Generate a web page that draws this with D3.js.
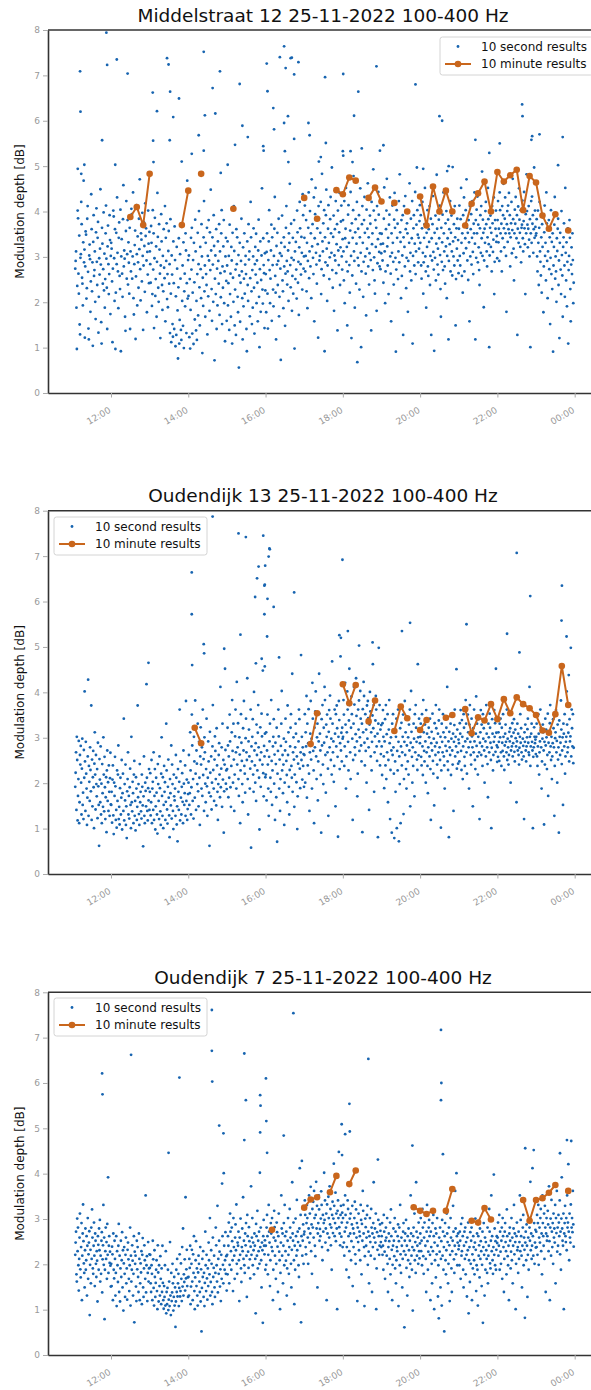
<!DOCTYPE html>
<html>
<head>
<meta charset="utf-8">
<script src="https://cdn.jsdelivr.net/npm/d3@7"></script>
<style>
  body { margin: 0; background: #fff; }
  svg { display: block; font-family: "DejaVu Sans", sans-serif; }
</style>
</head>
<body>
<svg id="chart" width="591" height="1390"></svg>
<script>

// 10 second results, one string per hour (values in 0.01 dB)
var hours = [11, 12, 13, 14, 15, 16, 17, 18, 19, 20, 21, 22, 23];

var mid10s = [
  "274 291 312 188 97 236 402 385 263 219 347 151 129 298 306 421 372 254 241 193 332 468 288 316 122 279 356 349 208 231 384 412 267 142 118 303 327 295 179 246 438 361 224 288 104 333 392 258 271 312 201 163 354 407 289 238 342 377 133 212 297 261 318 449 283 156 109 364 329 241 273 398 226 307 188 251 352 413 296 232 141 323 369 284 218 262 392 337 174 302",
  "331 318 246 112 274 402 389 297 203 361 97 221 353 284 431 309 268 187 342 376 258 229 404 92 301 339 263 212 383 458 279 314 296 168 137 357 423 252 306 381 239 332 287 219 364 141 312 268 406 394 252 301 442 209 173 284 326 358 119 257 414 306 193 345 288 232 384 317 471 273 204 352 338 246 397 302 139 281 376 324 223 418 346 363 292 178 311 261 402 329 242 355",
  "312 284 243 368 331 192 218 403 272 352 143 297 386 214 251 323 168 289 441 344 232 201 372 316 263 121 281 394 334 238 183 302 224 361 276 253 412 158 342 291 374 207 262 189 313 357 241 284 132 383 219 112 303 261 152 124 334 242 141 367 293 103 213 128 322 274 182 76 233 341 109 161 306 252 139 117 373 203 281 148 332 99 224 263 191 352 314 132 242 468 208 293",
  "214 303 123 251 98 183 342 272 364 131 221 293 108 331 244 162 382 312 138 203 117 262 353 171 284 401 233 149 322 273 209 372 301 88 254 192 343 423 224 281 168 331 262 238 364 129 302 213 381 292 181 354 271 448 314 229 159 343 283 201 392 324 72 252 303 218 361 141 274 193 334 291 241 372 172 312 264 211 352 403 152 279 232 323 381 198 268 114 301 342 247 159",
  "281 334 193 242 302 139 371 218 263 168 322 292 109 353 254 201 412 313 149 228 272 128 361 284 343 212 178 304 56 259 331 157 243 291 384 268 209 118 321 191 252 352 219 283 302 262 141 92 334 238 203 372 294 312 169 253 421 343 224 152 271 188 301 363 232 131 284 322 261 351 198 292 243 158 314 382 212 101 273 334 179 249 303 451 228 197 341 282 264 143 308 226",
  "262 178 311 352 219 142 293 334 403 271 198 252 314 371 159 343 282 228 191 302 362 432 258 221 118 324 283 353 238 291 384 169 212 308 274 73 331 302 391 248 224 187 343 279 322 148 263 364 412 291 239 268 314 203 352 331 461 282 233 373 298 181 258 342 219 293 381 98 312 251 333 272 208 402 354 243 289 172 321 421 363 284 261 344 309 228 438 392 274 301",
  "342 413 268 302 381 224 331 187 291 364 442 253 312 401 279 352 209 471 323 372 298 262 431 158 341 394 452 309 283 241 363 328 122 412 384 292 302 353 421 218 273 483 334 312 374 259 403 92 343 288 392 448 318 203 281 362 414 331 251 299 383 432 352 309 497 271 232 344 391 181 303 361 292 423 264 328 372 138 402 314 282 354 441 238 321 378 413 301 272 339",
  "381 312 248 423 198 341 362 452 289 322 149 268 393 414 331 282 221 358 443 302 121 374 259 342 403 478 312 291 188 354 383 241 329 421 68 298 362 281 392 228 343 451 309 101 268 372 412 331 212 289 381 432 353 301 263 171 404 318 362 462 279 343 239 308 391 373 293 138 421 328 352 271 493 402 299 248 219 381 322 364 181 412 286 339 443 393 311 279 352 273 328 308",
  "351 421 292 329 243 384 453 312 198 268 361 402 472 323 281 342 218 371 393 431 301 263 158 352 309 413 331 289 239 382 441 364 298 91 272 403 342 373 251 312 423 288 482 354 333 209 381 258 303 392 128 343 412 322 279 434 361 231 298 374 352 179 291 401 331 462 268 309 384 248 341 423 109 302 363 392 281 329 443 262 312 371 497 403 349 288 342 318 379 414",
  "331 392 281 252 363 421 309 219 288 342 372 452 301 268 188 353 322 403 279 258 361 333 412 238 302 384 128 341 292 372 434 311 272 93 353 298 391 248 329 481 362 283 318 261 382 341 413 304 229 168 364 289 332 393 271 442 352 312 279 241 374 323 401 209 302 341 382 118 291 361 328 423 268 353 391 312 259 498 334 301 372 281 412 343 149 251 363 318 384 292 337 264",
  "362 413 302 281 383 452 331 258 352 221 392 308 431 268 372 341 403 319 471 364 292 353 249 381 332 158 412 301 361 394 283 342 423 311 262 373 352 442 329 118 381 298 404 352 433 288 371 321 271 238 363 392 309 412 341 488 302 382 353 189 292 362 331 401 421 372 312 279 343 452 383 328 101 303 364 391 322 353 268 412 374 311 338 431 218 289 381 362 402 333 346 297",
  "381 423 332 362 291 442 403 352 312 373 268 412 341 392 461 363 321 384 431 352 302 179 372 401 333 413 361 441 352 392 279 343 374 421 308 359 472 383 318 248 352 404 373 432 299 341 392 128 362 411 331 451 382 353 322 403 288 364 371 424 341 312 379 443 363 328 218 394 352 482 401 371 321 362 412 338 301 383 101 352 423 331 433 373 392 309 361 497 342 402 366 347",
  "352 383 301 268 402 331 238 364 421 312 289 259 343 221 372 322 393 178 279 354 413 302 331 248 442 374 291 209 312 361 381 273 343 152 298 403 262 333 229 352 91 281 322 371 432 252 301 268 201 341 313 362 384 238 292 121 331 353 272 218 401 304 259 168 322 343 374 281 212 452 309 248 332 191 289 363 109 271 302 381 342 229 158 283 321 262 352 293 198 243"
];

// single results above the main cloud: [hour of day, dB]
var midHigh = [
  [11.20, 7.09], [11.21, 6.20], [11.14, 4.94], [11.23, 4.83], [11.31, 5.03], [11.77, 5.57], [11.88, 7.94], [11.90, 7.23],
  [12.15, 7.35], [12.43, 7.04], [12.11, 5.03], [13.08, 6.62], [13.19, 6.21], [13.09, 5.56], [13.10, 5.09], [13.45, 7.38],
  [13.49, 7.24], [13.53, 6.64], [13.76, 6.49], [13.61, 6.08], [13.52, 5.57], [13.83, 5.10], [14.40, 7.52], [14.82, 7.09],
  [14.63, 6.72], [14.70, 6.16], [14.43, 6.12], [14.27, 5.68], [14.09, 5.27], [14.40, 5.34], [14.84, 4.85], [15.02, 5.03],
  [15.33, 6.81], [15.40, 5.89], [15.54, 5.64], [15.21, 5.47], [15.94, 5.44], [15.95, 5.34], [16.03, 7.26], [16.05, 6.65],
  [16.20, 6.28], [16.22, 5.81], [16.48, 7.64], [16.37, 7.40], [16.52, 7.16], [16.65, 7.38], [16.74, 7.02], [16.85, 7.29],
  [16.58, 6.10], [16.48, 5.95], [16.50, 5.33], [16.59, 5.09], [16.74, 5.60], [16.68, 7.39], [17.54, 6.96], [18.01, 7.03],
  [18.87, 7.20], [18.40, 6.64], [18.29, 6.11], [19.88, 6.80], [20.50, 6.10], [20.57, 6.00], [17.11, 5.95], [17.14, 5.68],
  [17.56, 5.51], [18.49, 5.39], [19.05, 5.46], [18.96, 5.34], [21.43, 5.58], [22.06, 5.50], [22.64, 6.36], [22.65, 6.10],
  [22.90, 5.66], [22.88, 5.58], [23.09, 5.70], [23.69, 5.64], [21.79, 5.29], [23.57, 5.02], [18.00, 5.33], [18.01, 5.23],
  [18.20, 5.33], [17.43, 5.20], [17.38, 5.10], [18.25, 5.09], [20.74, 5.00], [20.70, 4.89], [20.08, 4.94]
];

var oud13_10s = [
  "192 223 268 141 302 251 118 172 209 293 112 158 262 241 282 201 131 232 298 152 179 121 273 212 402 248 139 291 221 188 108 168 259 428 128 238 203 161 279 229 182 371 119 252 149 213 271 191 101 243 312 219 142 262 198 171 231 123 289 193 152 62 253 208 158 281 131 199 112 242 178 148 301 219 138 258 191 121 169 213 92 228 272 161 202 139 239 181 128 211 267 153",
  "152 181 113 208 239 129 88 201 172 258 193 119 141 102 228 161 219 283 121 148 109 189 212 131 168 251 98 178 221 139 342 118 198 162 241 108 149 79 182 209 268 131 172 122 191 232 152 101 302 158 138 203 178 112 219 249 128 161 96 213 188 119 148 371 169 198 132 108 242 158 181 138 122 219 192 151 61 171 259 128 112 201 183 149 418 212 139 118 189 162 231 141",
  "181 222 129 158 251 112 188 203 141 268 119 172 231 98 149 212 179 131 89 242 198 161 121 259 189 138 108 221 301 172 128 213 101 152 238 181 202 119 159 331 228 142 111 192 252 168 129 81 209 178 151 283 122 241 198 139 99 219 171 162 188 128 262 212 109 149 72 231 181 141 203 362 118 248 168 131 192 222 159 112 272 199 152 178 239 128 381 161 208 119 143 176",
  "201 262 152 178 312 228 131 191 351 283 161 209 122 302 248 168 382 221 141 272 243 198 331 182 149 291 212 108 259 323 241 188 279 172 362 218 253 139 301 268 199 158 231 342 193 128 212 292 248 179 62 313 223 171 259 142 201 281 372 229 188 161 252 303 271 209 151 321 239 181 119 198 262 288 219 169 412 191 232 279 148 331 208 251 91 182 241 452 273 199 228 187",
  "231 322 283 169 259 212 351 292 191 148 238 312 383 271 201 331 252 139 219 303 362 268 188 423 241 279 332 209 172 301 263 112 228 352 289 249 198 158 321 272 381 238 221 179 299 342 268 251 431 209 131 292 318 259 188 232 362 58 281 248 302 341 219 181 401 272 239 201 288 161 329 262 228 311 372 279 212 98 251 323 192 268 353 303 241 448 222 171 282 259 309 213",
  "219 312 162 272 351 241 188 128 258 292 331 212 181 383 249 152 228 281 302 341 199 263 119 289 242 169 322 71 221 271 362 303 188 252 139 209 282 331 403 228 262 178 241 298 108 201 272 342 291 249 218 158 371 262 312 192 131 229 281 322 352 238 212 441 181 268 301 252 148 219 279 331 309 202 259 99 171 243 292 362 341 232 189 268 482 251 302 208 279 238 264 192",
  "262 352 201 312 281 392 168 331 239 288 363 221 139 268 309 381 252 298 188 421 342 271 228 112 322 279 358 402 259 209 301 331 162 248 292 441 353 309 272 218 91 341 283 372 241 198 322 289 412 383 262 179 329 302 351 268 232 128 313 361 279 393 342 251 298 219 468 331 268 292 203 238 362 309 149 352 281 371 321 258 82 302 381 339 231 288 479 272 311 248 322 298",
  "302 383 351 238 281 421 329 188 259 312 402 362 291 228 338 452 372 268 209 322 391 352 298 119 251 331 412 373 279 262 308 431 348 292 171 221 362 318 382 271 301 403 342 283 248 331 92 363 312 423 392 289 239 352 271 318 201 371 298 381 343 279 141 329 401 358 259 312 228 291 349 462 321 372 181 268 303 338 392 362 281 249 309 81 331 498 292 372 239 318 264 328",
  "281 218 332 361 302 259 189 292 341 239 372 209 308 268 352 158 251 318 383 288 121 229 301 272 91 331 262 352 279 221 79 312 248 181 302 342 101 271 228 362 291 72 259 198 321 112 281 333 239 268 302 351 132 209 291 381 262 312 231 188 283 342 248 301 219 329 272 362 149 289 403 313 258 201 279 238 331 298 171 352 268 372 322 291 252 229 462 301 261 342 316 288",
  "302 331 258 239 352 281 218 383 312 271 248 329 292 201 361 268 309 238 178 279 322 301 259 342 231 119 288 313 272 353 249 221 298 151 332 281 262 372 321 289 241 212 309 268 338 362 279 251 302 102 228 331 291 268 352 312 259 239 188 301 282 341 322 271 412 248 229 292 81 313 279 262 331 218 298 352 272 241 309 139 291 328 362 259 302 281 451 232 318 268 243 296",
  "288 248 332 309 361 271 229 339 302 209 281 352 322 258 238 292 383 331 268 221 298 351 312 279 188 329 372 291 262 241 342 303 279 149 321 268 362 292 251 231 309 391 282 331 259 219 302 341 268 121 289 312 361 262 329 281 238 352 298 321 272 201 341 292 259 372 309 279 242 169 331 301 268 353 322 289 251 101 278 341 309 228 262 291 361 302 332 269 452 311 283 247",
  "279 258 312 291 249 331 301 342 268 238 322 289 271 352 302 259 229 283 309 329 291 268 362 251 298 279 241 262 313 292 321 201 272 303 281 332 259 288 311 341 269 248 318 299 281 158 292 331 272 309 262 241 278 302 352 289 321 268 252 372 298 282 259 121 312 291 329 272 248 281 301 319 342 289 268 262 412 302 238 281 309 331 291 272 101 258 279 323 302 288 296 264",
  "302 331 259 238 281 352 309 219 268 292 362 322 279 188 248 298 329 312 272 109 291 241 342 283 318 301 231 262 353 172 289 309 268 332 372 281 251 302 209 259 288 341 321 279 128 238 299 312 361 268 293 201 329 252 279 91 338 302 262 289 382 318 242 272 301 152 331 309 281 352 221 259 291 302 402 329 268 279 311 438 248 341 292 303 498 259 362 321 281 352 244 278"
];

var oud13High = [
  [14.63, 7.87], [14.09, 6.64], [14.09, 5.72], [14.40, 5.06], [14.41, 4.86], [14.10, 4.60], [12.97, 4.65], [14.93, 4.96],
  [15.30, 7.50], [15.49, 7.42], [15.94, 7.45], [16.10, 7.17], [16.11, 7.15], [16.08, 6.99], [15.99, 6.79], [15.82, 6.77],
  [15.78, 6.51], [15.98, 6.37], [15.97, 6.35], [15.73, 6.10], [16.05, 6.06], [16.21, 5.88], [15.97, 5.72], [15.35, 5.27],
  [16.04, 5.23], [16.35, 4.77], [15.90, 4.74], [15.75, 4.64], [15.98, 4.57], [16.74, 6.20], [17.99, 6.92], [22.50, 7.07],
  [23.67, 6.35], [22.85, 6.12], [23.66, 5.58], [23.79, 5.23], [21.20, 5.50], [19.74, 5.53], [19.53, 5.35], [17.91, 5.26],
  [17.95, 5.20], [18.13, 5.35], [18.42, 5.03], [18.77, 5.10], [22.25, 5.29], [22.57, 4.88]
];

var oud7_10s = [
  "221 248 272 178 162 301 229 281 198 142 212 259 312 189 171 238 291 121 219 268 332 251 202 181 149 231 279 188 209 262 131 241 302 168 222 248 273 88 199 232 158 281 212 321 259 191 179 241 292 219 152 268 252 201 172 229 208 118 262 243 188 279 231 298 162 219 179 252 271 138 211 242 331 199 259 79 188 229 281 212 249 168 289 221 392 181 241 262 203 228 197 151",
  "201 152 239 222 121 268 188 169 252 212 131 181 262 108 229 198 161 241 289 139 219 118 191 252 172 209 271 149 231 98 202 238 179 128 221 259 158 191 122 232 248 211 168 141 198 281 109 219 162 188 242 208 131 179 262 72 228 201 219 151 119 252 189 238 172 139 268 212 121 158 202 182 229 112 221 258 149 128 191 242 209 168 352 138 198 218 119 181 249 162 191 222",
  "192 221 158 139 198 179 121 252 211 148 109 231 172 128 159 188 209 141 101 242 182 118 198 152 131 218 168 112 191 139 241 159 121 102 152 128 198 109 229 92 139 112 148 188 99 122 162 108 249 131 88 181 119 138 201 158 98 128 172 109 149 62 118 188 139 212 129 158 179 108 148 222 129 141 202 168 119 238 151 279 131 178 161 211 142 348 169 189 232 152 171 128",
  "172 131 212 192 241 112 151 201 232 162 121 222 181 262 141 101 171 209 251 152 191 131 109 182 219 201 162 139 238 118 189 52 148 212 172 229 128 181 108 159 272 198 141 221 169 122 191 152 248 209 178 302 131 161 231 201 139 112 259 172 192 219 149 128 181 281 242 198 162 329 138 212 179 252 228 151 189 119 221 168 378 262 199 158 401 241 188 209 271 179 218 142",
  "221 178 262 241 292 158 199 312 272 229 188 281 251 209 141 302 238 219 168 259 288 231 332 201 179 248 241 272 209 119 259 221 301 191 161 238 279 229 348 212 252 198 181 268 242 291 219 128 309 262 228 192 282 251 211 169 239 372 221 259 302 198 248 231 178 268 241 212 92 289 262 219 318 191 252 229 272 201 402 238 281 209 149 248 231 71 262 298 241 222 253 188",
  "241 199 281 309 262 178 221 331 272 248 152 209 291 268 238 302 229 121 188 259 318 282 219 252 168 201 292 271 239 139 262 312 228 209 101 181 248 352 279 219 268 158 241 291 198 331 262 229 208 272 131 191 252 302 221 179 238 322 281 259 201 149 232 381 268 252 292 209 112 241 188 301 262 219 342 231 272 249 198 172 279 412 241 309 72 262 428 219 252 288 201 266",
  "272 341 309 238 222 291 331 302 259 201 279 352 248 312 268 371 229 288 179 322 281 338 259 362 302 241 218 309 382 279 329 149 268 291 352 321 252 278 262 301 361 331 238 209 309 272 291 402 298 341 248 279 312 121 332 268 231 349 302 259 372 288 322 242 281 188 309 338 269 301 422 329 262 291 358 251 312 279 101 318 341 302 448 282 268 242 309 329 261 292 314 238",
  "302 331 248 219 272 352 309 281 188 238 292 341 322 262 171 229 301 268 312 209 251 288 329 152 279 238 268 302 338 222 201 321 259 291 119 281 249 312 231 272 262 209 331 298 178 289 252 362 318 268 238 108 218 301 282 241 259 309 329 199 272 228 158 262 302 249 219 322 281 139 268 238 291 381 259 212 279 248 312 101 191 271 232 431 298 262 221 241 288 274 249 238",
  "262 291 221 241 188 309 272 228 168 252 281 259 219 302 201 139 238 268 251 212 292 178 321 262 232 121 199 241 279 252 218 302 191 272 158 209 238 229 262 288 108 251 281 198 331 222 181 259 241 149 212 272 291 229 61 252 268 221 298 192 241 131 262 209 279 231 172 252 201 352 268 219 188 238 98 262 281 231 312 209 249 181 381 272 219 241 259 201 292 229 213 246",
  "268 302 229 252 198 322 281 218 179 259 292 309 241 212 139 272 331 251 188 228 281 298 262 221 121 272 238 201 158 291 229 309 262 101 248 209 279 171 268 222 302 241 129 198 81 259 228 281 149 212 251 109 298 219 272 188 238 52 262 291 209 178 231 312 268 249 158 201 281 242 119 221 302 259 191 139 229 252 329 272 211 181 241 362 279 222 401 262 198 248 268 233",
  "241 198 272 252 168 289 219 229 302 262 188 149 241 272 212 281 178 249 221 129 259 231 292 92 209 238 161 271 201 252 281 121 222 191 262 238 209 178 248 301 232 141 198 268 188 109 262 219 242 171 279 212 251 229 152 199 272 71 238 291 221 131 259 188 249 231 212 181 281 158 219 241 322 272 202 191 252 352 229 262 209 179 238 398 221 279 198 251 188 232 262 247",
  "259 292 219 241 309 188 272 228 201 252 281 168 302 262 238 139 212 272 291 249 229 178 321 262 218 198 241 121 268 281 252 191 228 302 209 259 158 241 279 331 222 268 249 101 201 262 292 231 238 181 272 212 249 352 229 298 262 219 149 241 281 309 198 259 232 82 248 272 209 288 241 128 221 259 188 302 281 252 382 231 268 212 241 412 262 219 452 291 201 248 276 237",
  "272 238 309 221 291 331 199 259 281 248 302 322 229 268 178 352 291 262 241 312 212 329 281 139 268 302 252 262 318 288 229 372 251 121 281 301 219 342 272 238 291 201 312 259 279 248 331 158 302 269 362 228 281 241 309 292 262 341 222 272 188 301 392 279 252 241 312 101 268 291 329 262 249 302 231 352 281 292 421 272 209 312 259 248 332 472 281 302 271 362 288 239"
];

var oud7High = [
  [11.77, 6.21], [11.78, 5.75], [12.52, 6.62], [13.77, 6.12], [14.61, 7.61], [14.61, 6.71], [14.62, 6.03], [15.45, 6.65],
  [15.49, 5.62], [15.86, 5.73], [15.87, 5.50], [16.01, 6.10], [16.02, 5.16], [15.86, 4.91], [15.45, 4.74], [14.80, 5.06],
  [14.91, 4.89], [16.47, 4.84], [16.72, 7.54], [13.49, 4.46], [16.04, 4.46], [20.54, 7.17], [18.66, 6.53], [20.55, 6.00],
  [20.54, 5.62], [18.17, 5.54], [17.97, 5.09], [18.06, 4.87], [18.18, 4.93], [19.80, 4.62], [17.98, 4.41], [22.72, 4.56],
  [23.80, 4.74], [23.62, 4.45], [20.59, 4.43]
];

// 10 minute results, null where there is no result (breaks the line)
var mid10min = [
  ["12:30", 3.88], ["12:40", 4.10], ["12:50", 3.70], ["13:00", 4.83], ["13:10", null],
  ["13:50", 3.70], ["14:00", 4.46], ["14:10", null], ["14:20", 4.83], ["14:30", null],
  ["15:10", 4.06], ["15:20", null], ["17:00", 4.30], ["17:10", null], ["17:20", 3.84], ["17:30", null],
  ["17:50", 4.47], ["18:00", 4.38], ["18:10", 4.75], ["18:20", 4.68], ["18:30", null],
  ["18:40", 4.30], ["18:50", 4.53], ["19:00", 4.22], ["19:10", null], ["19:20", 4.19], ["19:30", null],
  ["19:40", 4.00], ["19:50", null], ["20:00", 4.33], ["20:10", 3.69], ["20:20", 4.55], ["20:30", 4.00],
  ["20:40", 4.46], ["20:50", 4.00], ["21:00", null], ["21:10", 3.69], ["21:20", 4.17], ["21:30", 4.40],
  ["21:40", 4.66], ["21:50", 4.00], ["22:00", 4.87], ["22:10", 4.66], ["22:20", 4.80], ["22:30", 4.92],
  ["22:40", 4.03], ["22:50", 4.78], ["23:00", 4.64], ["23:10", 3.91], ["23:20", 3.62], ["23:30", 3.94],
  ["23:40", null], ["23:50", 3.58]
];

var oud13_10min = [
  ["14:10", 3.22], ["14:20", 2.88], ["14:30", null], ["17:10", 2.86], ["17:20", 3.54], ["17:30", null],
  ["18:00", 4.18], ["18:10", 3.76], ["18:20", 4.16], ["18:30", null], ["18:40", 3.36], ["18:50", 3.82], ["19:00", null],
  ["19:20", 3.15], ["19:30", 3.69], ["19:40", 3.43], ["19:50", null], ["20:00", 3.17], ["20:10", 3.39], ["20:20", null],
  ["20:40", 3.44], ["20:50", 3.50], ["21:00", null], ["21:10", 3.63], ["21:20", 3.10], ["21:30", 3.45], ["21:40", 3.38],
  ["21:50", 3.74], ["22:00", 3.41], ["22:10", 3.85], ["22:20", 3.54], ["22:30", 3.89], ["22:40", 3.74],
  ["22:50", 3.65], ["23:00", 3.50], ["23:10", 3.16], ["23:20", 3.11], ["23:30", 3.52], ["23:40", 4.58], ["23:50", 3.72]
];

var oud7_10min = [
  ["16:10", 2.76], ["16:20", null], ["17:00", 3.25], ["17:10", 3.43], ["17:20", 3.48], ["17:30", null],
  ["17:40", 3.59], ["17:50", 3.95], ["18:00", null], ["18:10", 3.77], ["18:20", 4.07], ["18:30", null],
  ["19:50", 3.26], ["20:00", 3.18], ["20:10", 3.11], ["20:20", 3.18], ["20:30", null],
  ["20:40", 3.18], ["20:50", 3.66], ["21:00", null], ["21:20", 2.96], ["21:30", 2.92], ["21:40", 3.24],
  ["21:50", 2.99], ["22:00", null], ["22:40", 3.42], ["22:50", 2.96], ["23:00", 3.42], ["23:10", 3.46],
  ["23:20", 3.58], ["23:30", 3.75], ["23:40", null], ["23:50", 3.62]
];

var titles = [
  "Middelstraat 12 25-11-2022 100-400 Hz",
  "Oudendijk 13 25-11-2022 100-400 Hz",
  "Oudendijk 7 25-11-2022 100-400 Hz"
];
var yTicks = [0, 1, 2, 3, 4, 5, 6, 7, 8];
var legendLabels = ["10 second results", "10 minute results"];


var blue = "#1764b0", orange = "#c9661c";
var day = new Date(2022, 10, 25);
function hDate(h) { return new Date(day.getTime() + h * 3600e3); }
function hm(s) { var p = s.split(":"); return +p[0] + p[1] / 60; }

// spread each hour's values evenly over that hour
function expand(strs) {
	var out = [];
	strs.forEach(function(s, k) {
		var h = hours[k];
		var vals = s.split(" ").map(Number);
		var t0 = h === 11 ? 11.07 : h, t1 = h === 23 ? 23.98 : h + 1;
		vals.forEach(function(v, i) {
			out.push([t0 + (i + 0.5) * (t1 - t0) / vals.length, v / 100]);
		});
	});
	return out;
}

var panels = [
	{ title: titles[0], top: 30, bottom: 393, dots: expand(mid10s).concat(midHigh), ten: mid10min, legend: [440, 37] },
	{ title: titles[1], top: 510.7, bottom: 874, dots: expand(oud13_10s).concat(oud13High), ten: oud13_10min, legend: [54, 517] },
	{ title: titles[2], top: 992.3, bottom: 1355, dots: expand(oud7_10s).concat(oud7High), ten: oud7_10min, legend: [54, 998] }
];

var left = 48, right = 591;
const x = d3.scaleTime().domain([hDate(10.3696), hDate(24.4224)]).range([left, right]);

const svg = d3.select("#chart");

panels.forEach(function(p) {
	const y = d3.scaleLinear().domain([0, 8]).range([p.bottom, p.top]);
	const g = svg.append("g");

	g.append("text")
		.attr("x", 323).attr("y", p.top - 8.3)
		.attr("text-anchor", "middle")
		.style("font-size", "18.5px").style("fill", "#111")
		.text(p.title);

	g.append("g").selectAll("circle")
		.data(p.dots)
		.enter().append("circle")
		.attr("cx", d => x(hDate(d[0])))
		.attr("cy", d => y(d[1]))
		.attr("r", 1.4)
		.style("fill", blue);

	var ten = p.ten.map(d => [hm(d[0]), d[1]]);
	var line = d3.line()
		.defined(d => d[1] != null)
		.x(d => x(hDate(d[0])))
		.y(d => y(d[1]));

	g.append("path")
		.datum(ten)
		.attr("d", line)
		.style("fill", "none").style("stroke", orange).style("stroke-width", 2);

	g.append("g").selectAll("circle")
		.data(ten.filter(d => d[1] != null))
		.enter().append("circle")
		.attr("cx", d => x(hDate(d[0])))
		.attr("cy", d => y(d[1]))
		.attr("r", 3.3)
		.style("fill", orange);

	// axes
	const xAxis = d3.axisBottom(x)
		.ticks(d3.timeHour.every(2))
		.tickFormat(d3.timeFormat("%H:%M"))
		.tickSize(4.5).tickSizeOuter(0);
	const ax = g.append("g")
		.attr("transform", "translate(0," + p.bottom + ")")
		.call(xAxis);
	ax.selectAll("text")
		.attr("y", 0).attr("dy", null)
		.attr("transform", "translate(0,19) rotate(-30)")
		.style("text-anchor", "end");

	const yAxis = d3.axisLeft(y).tickValues(yTicks).tickFormat(d3.format("d")).tickSize(5).tickSizeOuter(0);
	const ay = g.append("g")
		.attr("transform", "translate(" + left + ",0)")
		.call(yAxis);

	[ax, ay].forEach(function(a) {
		a.select(".domain").style("stroke", "#333").style("stroke-width", 1.6);
		a.selectAll(".tick line").style("stroke", "#aaa").style("stroke-width", 1);
		a.selectAll(".tick text").style("fill", "#999").style("font-size", "9px").style("font-family", "DejaVu Sans");
	});

	g.append("line")
		.attr("x1", left).attr("x2", right)
		.attr("y1", p.top).attr("y2", p.top)
		.style("stroke", "#333").style("stroke-width", 1.6);

	g.append("text")
		.attr("transform", "translate(24," + (p.top + p.bottom) / 2 + ") rotate(-90)")
		.attr("text-anchor", "middle")
		.style("font-size", "12px").style("fill", "#111")
		.text("Modulation depth [dB]");

	// legend
	var lx = p.legend[0], ly = p.legend[1];
	const lg = g.append("g").attr("transform", "translate(" + lx + "," + ly + ")");
	lg.append("rect")
		.attr("width", 153).attr("height", 38).attr("rx", 2.5)
		.style("fill", "#fff").style("fill-opacity", 0.85)
		.style("stroke", "#d4d4d4");
	lg.append("circle").attr("cx", 18).attr("cy", 9.5).attr("r", 1.4).style("fill", blue);
	lg.append("line").attr("x1", 5).attr("x2", 31).attr("y1", 27).attr("y2", 27)
		.style("stroke", orange).style("stroke-width", 2);
	lg.append("circle").attr("cx", 18).attr("cy", 27).attr("r", 3.3).style("fill", orange);
	lg.selectAll("text.lab")
		.data(legendLabels)
		.enter().append("text")
		.attr("x", 41).attr("y", (d, i) => 13.6 + i * 17.5)
		.style("font-size", "12px").style("fill", "#111")
		.text(d => d);
});

</script>
</body>
</html>
